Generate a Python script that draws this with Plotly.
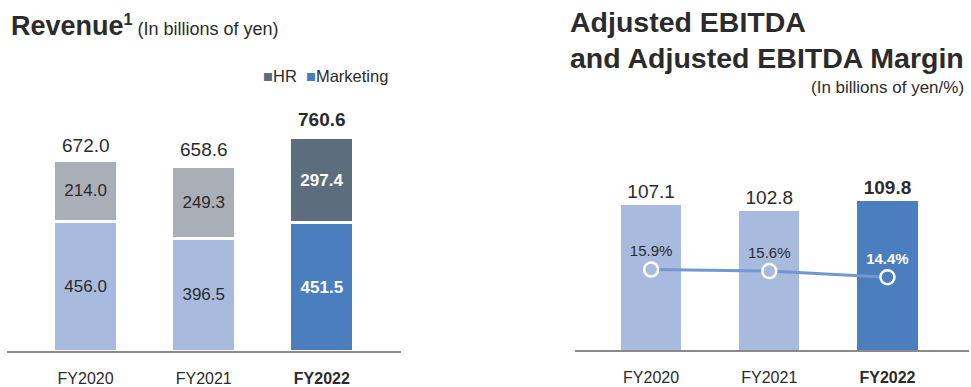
import plotly.graph_objects as go

# Fiscal years and reported figures (billions of yen / %)
years = ["FY2020", "FY2021", "FY2022"]
hr_revenue = [214.0, 249.3, 297.4]
marketing_revenue = [456.0, 396.5, 451.5]
revenue_total = [672.0, 658.6, 760.6]
adj_ebitda = [107.1, 102.8, 109.8]
adj_ebitda_margin = [15.9, 15.6, 14.4]

W, H = 971, 387
FONT = "Liberation Sans, Arial, Helvetica, sans-serif"
TXT = "#2b2b2b"

HR_PAST, HR_NOW = "#a9aeb7", "#5c6e7d"
MK_PAST, MK_NOW = "#a8bbdf", "#4a7ebe"
LINE_C = "#7397d3"


def py(px):
    """Convert a pixel row (from top) to paper coordinates."""
    return 1 - px / H


def px_x(px):
    return px / W


latest = len(years) - 1


def fmt(v, i, suffix=""):
    s = f"{v:.1f}{suffix}"
    return f"<b>{s}</b>" if i == latest else s


hr_colors = [HR_NOW if i == latest else HR_PAST for i in range(len(years))]
mk_colors = [MK_NOW if i == latest else MK_PAST for i in range(len(years))]
in_text_colors = ["white" if i == latest else TXT for i in range(len(years))]

fig = go.Figure()

# ---- Revenue: stacked bars (Marketing below, HR on top)
fig.add_trace(go.Bar(
    x=years, y=marketing_revenue, name="Marketing",
    marker=dict(color=mk_colors, line=dict(color="white", width=2.5)),
    width=0.54,
    text=[fmt(v, i) for i, v in enumerate(marketing_revenue)],
    textposition="inside", insidetextanchor="middle", textangle=0,
    constraintext="none",
    insidetextfont=dict(family=FONT, size=17, color=in_text_colors),
    xaxis="x", yaxis="y", showlegend=False, hoverinfo="skip",
))
fig.add_trace(go.Bar(
    x=years, y=hr_revenue, name="HR",
    marker=dict(color=hr_colors, line=dict(color="white", width=2.5)),
    width=0.54,
    text=[fmt(v, i) for i, v in enumerate(hr_revenue)],
    textposition="inside", insidetextanchor="middle", textangle=0,
    constraintext="none",
    insidetextfont=dict(family=FONT, size=17, color=in_text_colors),
    xaxis="x", yaxis="y", showlegend=False, hoverinfo="skip",
))

# ---- Adjusted EBITDA bars
fig.add_trace(go.Bar(
    x=years, y=adj_ebitda, name="Adjusted EBITDA",
    marker=dict(color=mk_colors, line=dict(width=0)),
    width=0.51,
    text=[fmt(v, i) for i, v in enumerate(adj_ebitda)],
    textposition="outside", textangle=0, constraintext="none",
    outsidetextfont=dict(family=FONT, size=19, color=TXT),
    cliponaxis=False,
    xaxis="x2", yaxis="y2", showlegend=False, hoverinfo="skip",
))

# ---- Adjusted EBITDA margin line
fig.add_trace(go.Scatter(
    x=years, y=adj_ebitda_margin, name="Adjusted EBITDA Margin",
    mode="lines+markers+text",
    line=dict(color=LINE_C, width=3),
    marker=dict(size=14, color=mk_colors, line=dict(color="white", width=2.5)),
    text=[fmt(v, i, "%") for i, v in enumerate(adj_ebitda_margin)],
    textposition="top center",
    textfont=dict(family=FONT, size=15, color=in_text_colors),
    cliponaxis=False,
    xaxis="x2", yaxis="y3", showlegend=False, hoverinfo="skip",
))

annotations = []

# Revenue totals above stacks
for i, (yr, tot) in enumerate(zip(years, revenue_total)):
    annotations.append(dict(
        x=yr, y=tot, xref="x", yref="y", yanchor="bottom", yshift=2,
        text=fmt(tot, i), showarrow=False,
        font=dict(family=FONT, size=19, color=TXT),
    ))

# Titles
annotations += [
    dict(x=px_x(9), y=py(26), xref="paper", yref="paper",
         xanchor="left", yanchor="middle", showarrow=False,
         text=("<b>Revenue</b><span style='font-size:23px'><b><sup>1</sup></b></span>"
               "<span style='font-size:18px'> (In billions of yen)</span>"),
         font=dict(family=FONT, size=27, color=TXT)),
    dict(x=px_x(568), y=py(22), xref="paper", yref="paper",
         xanchor="left", yanchor="middle", showarrow=False,
         text="<b>Adjusted EBITDA</b>",
         font=dict(family=FONT, size=28.5, color=TXT)),
    dict(x=px_x(568), y=py(59), xref="paper", yref="paper",
         xanchor="left", yanchor="middle", showarrow=False,
         text="<b>and Adjusted EBITDA Margin</b>",
         font=dict(family=FONT, size=28.5, color=TXT)),
    dict(x=px_x(966), y=py(89), xref="paper", yref="paper",
         xanchor="right", yanchor="middle", showarrow=False,
         text="(In billions of yen/%)",
         font=dict(family=FONT, size=17, color=TXT)),
    # Legend for the revenue segments
    dict(x=px_x(390), y=py(77), xref="paper", yref="paper",
         xanchor="right", yanchor="middle", showarrow=False,
         text=(f"<span style='color:{HR_NOW}'>■</span>HR  "
               f"<span style='color:{MK_NOW}'>■</span>Marketing"),
         font=dict(family=FONT, size=16.5, color=TXT)),
]

tick_text = [f"<b>{y}</b>" if i == latest else y for i, y in enumerate(years)]
axis_common = dict(
    type="category", showline=True, linecolor="#8a8a8a", linewidth=1.5,
    showgrid=False, zeroline=False, ticks="", tickvals=years, ticktext=tick_text,
    tickfont=dict(family=FONT, size=16, color=TXT), ticklabelstandoff=12,
    fixedrange=True,
)

fig.update_layout(
    width=W, height=H,
    margin=dict(l=0, r=0, t=0, b=0),
    paper_bgcolor="white", plot_bgcolor="white",
    barmode="stack", showlegend=False,
    xaxis=dict(domain=[px_x(7), px_x(401)], range=[-0.665, 2.67], anchor="y", **axis_common),
    yaxis=dict(domain=[py(356), py(100)], range=[0, 886], visible=False, fixedrange=True),
    xaxis2=dict(domain=[px_x(575), px_x(969)], range=[-0.644, 2.69], anchor="y2", **axis_common),
    yaxis2=dict(domain=[py(355), py(100)], range=[0, 185.3], visible=False, fixedrange=True),
    yaxis3=dict(domain=[py(355), py(100)], range=[0, 49.5], overlaying="y2",
                visible=False, fixedrange=True),
    annotations=annotations,
    font=dict(family=FONT, color=TXT),
)

fig.write_html("out.html", config={"displayModeBar": False})
